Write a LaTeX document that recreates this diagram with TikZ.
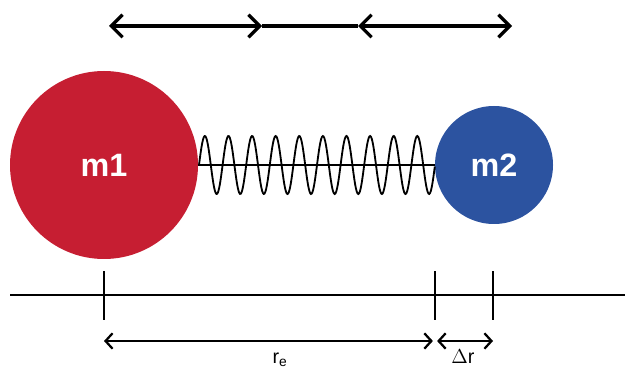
\documentclass[tikz,border=0pt]{standalone}
\usepackage{fontspec}
\setmainfont{Liberation Sans}
\usetikzlibrary{arrows.meta}
\definecolor{massred}{RGB}{198,30,50}
\definecolor{massblue}{RGB}{44,83,160}
\tikzset{
  mass/.style={circle, inner sep=0pt, text=white, font=\fontsize{23}{23}\selectfont\bfseries},
  bigarrow/.style={line width=2.3pt, {Straight Barb[length=8pt,width=16pt]}-{Straight Barb[length=8pt,width=16pt]}},
  dimarrow/.style={line width=1.6pt, {Straight Barb[length=5pt,width=11pt]}-{Straight Barb[length=5pt,width=11pt]}},
  tick/.style={line width=1.6pt}
}
\begin{document}
\begin{tikzpicture}[x=0.025cm, y=0.025cm]
\useasboundingbox (0,0) rectangle (625,369);
% masses
\node[mass, fill=massred, minimum size=188*0.025cm] (m1) at (104,204) {m1};
\node[mass, fill=massblue, minimum size=118*0.025cm] (m2) at (494,204) {m2};
% spring
\draw[line width=1pt] (m1.east) -- (m2.west);
\draw[line width=1.3pt] plot[domain=0:1, samples=300, smooth] ({199+236*\x},{204+29*sin(10*360*\x)});
% motion arrows
\coordinate (a1) at (109,343);
\coordinate (a2) at (262,343);
\coordinate (a3) at (358,343);
\coordinate (a4) at (512,343);
\draw[bigarrow] (a1) -- (a2);
\draw[line width=2.3pt] (a2) -- (a3);
\draw[bigarrow] (a3) -- (a4);
% axis
\coordinate (axl) at (10,74);
\coordinate (axr) at (625,74);
\draw[tick] (axl) -- (axr);
\foreach \n/\x in {t1/104, t2/435, t3/493} {
    \coordinate (\n top) at (\x,98);
    \coordinate (\n bot) at (\x,49);
    \coordinate (\n) at (\x,28);
    \draw[tick] (\n top) -- (\n bot);
}
\draw[dimarrow] (t1) -- ([xshift=-1.5]t2);
\draw[dimarrow] ([xshift=1.5]t2) -- (t3);
\node[anchor=base, font=\fontsize{14}{14}\selectfont] (re) at (280,6) {r$_\mathrm{e}$};
\node[anchor=base, font=\fontsize{14}{14}\selectfont] (dr) at (463,6) {$\Delta$r};
\end{tikzpicture}
\end{document}
